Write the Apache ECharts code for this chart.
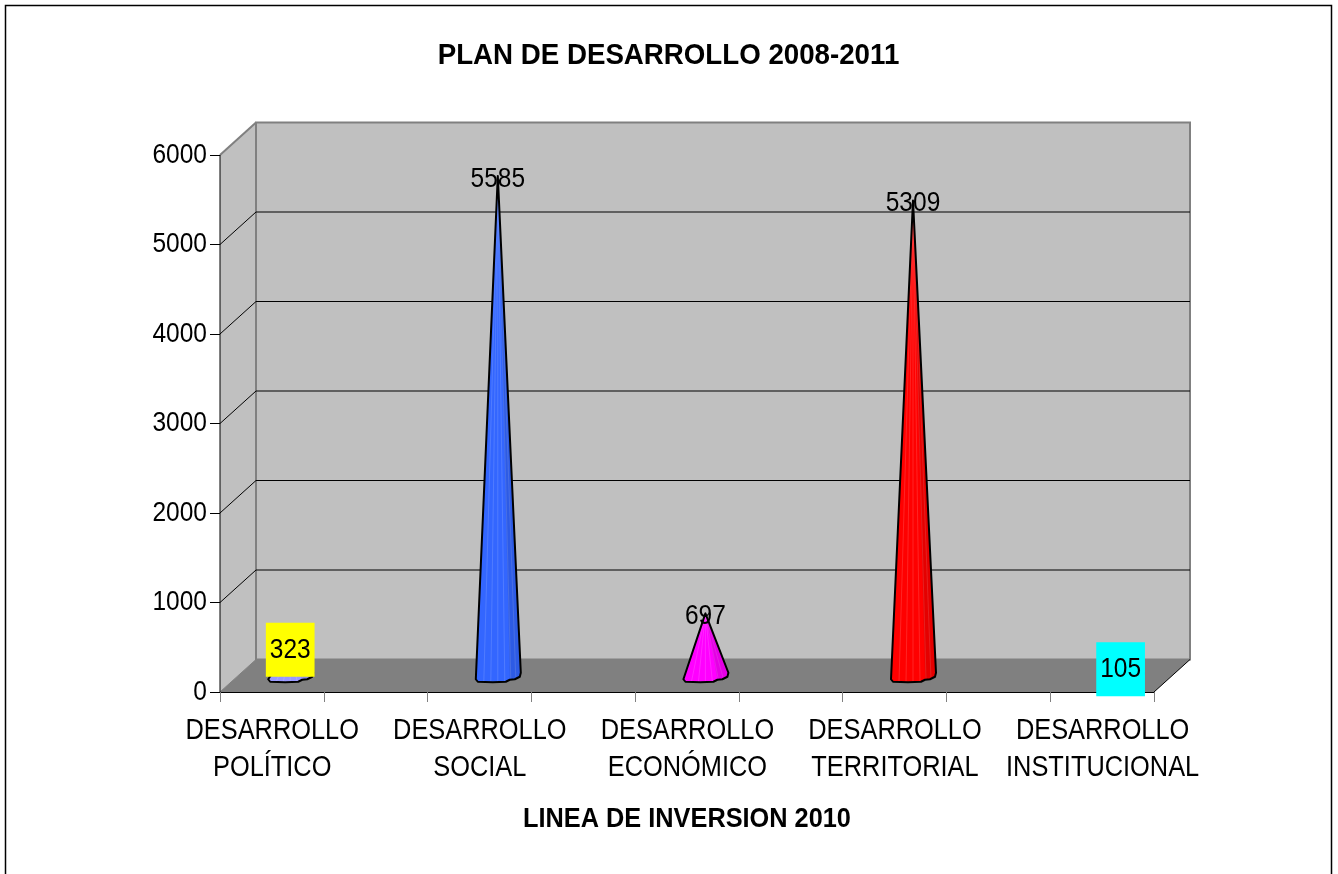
<!DOCTYPE html>
<html>
<head>
<meta charset="utf-8">
<style>html,body{margin:0;padding:0;background:#fff}#c{width:1338px;height:874px}</style>
<script src="https://cdn.jsdelivr.net/npm/echarts@6/dist/echarts.min.js"></script>
</head>
<body>
<div id="c"></div>
<script>
const titleText = 'PLAN DE DESARROLLO 2008-2011';
const xName = 'LINEA DE INVERSION 2010';
const categories = ['DESARROLLO\nPOLÍTICO', 'DESARROLLO\nSOCIAL', 'DESARROLLO\nECONÓMICO', 'DESARROLLO\nTERRITORIAL', 'DESARROLLO\nINSTITUCIONAL'];
const values = [323, 5585, 697, 5309, 105];
const coneColors = ['#9999ff', '#3366ff', '#ff00ff', '#ff0000', '#00ffff'];
const labelBackgrounds = ['#ffff00', null, null, null, '#00ffff'];
const yTicks = [0, 1000, 2000, 3000, 4000, 5000, 6000];

const FONT = '"Liberation Sans", Arial, sans-serif';
const DX = 36, DY = -32.5;
const baseOutline = [[-22,3.5],[-20,6],[-5,6.5],[8,6],[12,4],[17,3.5],[22,1],[23,-3]];

// The reference's type is horizontally condensed: draw all text narrower about its anchor.
const nativeFillText = CanvasRenderingContext2D.prototype.fillText;
CanvasRenderingContext2D.prototype.fillText = function (t, x, y, m) {
  const sx = /bold|700/.test(this.font) ? 0.945 : 0.875;
  this.save();
  this.translate(x, y);
  this.scale(sx, 1);
  nativeFillText.call(this, t, 0, 0);
  this.restore();
};

function renderRoom(params, api) {
  const o = api.coord([0, 0]), t = api.coord([0, 6000]), r = api.coord([9, 0]);
  const poly = (pts, fill, stroke, w) => ({type:'polygon', shape:{points:pts}, style:{fill, stroke, lineWidth:w}});
  const line = (a, b, stroke, w) => ({type:'line', shape:{x1:a[0],y1:a[1],x2:b[0],y2:b[1]}, style:{stroke, lineWidth:w}});
  const sh = p => [p[0] + DX, p[1] + DY];
  const br = [r[0], t[1]];
  const kids = [
    poly([o, t, sh(t), sh(o)], '#c0c0c0', null, 0),
    poly([sh(t), sh(br), sh(r), sh(o)], '#c0c0c0', '#808080', 2),
    poly([o, r, sh(r), sh(o)], '#808080', null, 0)
  ];
  yTicks.forEach(v => {
    const p = api.coord([0, v]);
    if (v > 0 && v < 6000) kids.push(line(sh(p), [sh(r)[0], sh(p)[1]], '#000', 1));
    if (v > 0 && v < 6000) kids.push(line(p, sh(p), '#000', 1));
  });
  kids.push(line(t, sh(t), '#808080', 2));
  kids.push(line(o, sh(o), '#808080', 1));
  kids.push(line(r, sh(r), '#000', 1));
  kids.push(line(t, o, '#000', 1));
  return {type:'group', children:kids};
}

function renderCone(params, api) {
  const i = api.value(0), v = api.value(1);
  const c0 = api.coord([i, 0]), tip0 = api.coord([i, v]);
  const cx = c0[0] + DX / 2, cy = c0[1] + DY / 2;
  const apex = [cx, tip0[1] + DY / 2];
  const base = baseOutline.map(p => [cx + p[0], cy + p[1]]);
  const kids = [];
  const color = coneColors[i];
  kids.push({type:'polygon', shape:{points:[...base, apex]}, style:{fill:color, stroke:null}});
  const rim = [[-14,6.2],[-7,6.4],[0,6.3],[7,6],[13,4],[18,3.2]];
  rim.forEach(p => {
    kids.push({type:'line', shape:{x1:cx+p[0], y1:cy+p[1], x2:apex[0], y2:apex[1]},
      style:{stroke:'rgba(255,255,255,0.14)', lineWidth:1}});
  });
  kids.push({type:'polygon', shape:{points:[[cx+12,cy+4],[cx+17,cy+3.5],[cx+22,cy+1],[cx+23,cy-3],apex]},
    style:{fill:'rgba(0,0,0,0.10)', stroke:null}});
  kids.push({type:'polygon', shape:{points:[...base, apex]}, style:{fill:null, stroke:'#000', lineWidth:2, lineJoin:'round'}});
  const bg = labelBackgrounds[i];
  kids.push({
    type:'text', z2:50,
    style:{
      text:String(v), x:cx, y:apex[1] + 3, align:'center', verticalAlign:'middle',
      font:'28px ' + FONT, fill:'#000',
      backgroundColor:bg || undefined,
      padding: bg ? [13, 1, 13, 1] : 0
    }
  });
  return {type:'group', children:kids};
}

const chart = echarts.init(document.getElementById('c'), null, {renderer:'canvas'});
chart.setOption({
  animation:false,
  backgroundColor:'#fff',
  title:{
    text:titleText, left:663.5, top:36, textAlign:'center',
    textStyle:{fontFamily:FONT, fontSize:29.3, fontWeight:'bold', color:'#000'}
  },
  graphic:[
    {type:'polyline', silent:true, shape:{points:[[5.5,874],[5.5,5.5],[1331.5,5.5],[1331.5,874]]}, style:{fill:null, stroke:'#000', lineWidth:1.5}}
  ],
  grid:[
    {left:168.4, width:1038, top:155, height:537},
    {left:220, width:934, top:155, height:537}
  ],
  xAxis:[
    {type:'category', gridIndex:0, data:categories,
     axisLine:{show:false}, axisTick:{show:false}, splitLine:{show:false},
     axisLabel:{interval:0, margin:20, lineHeight:37, fontFamily:FONT, fontSize:29, color:'#000'}},
    {type:'value', gridIndex:1, min:0, max:9, interval:1,
     axisLine:{show:true, onZero:false, lineStyle:{color:'#000', width:1}},
     axisTick:{show:true, length:10, lineStyle:{color:'#808080', width:1}},
     axisLabel:{show:false}, splitLine:{show:false},
     name:xName, nameLocation:'middle', nameGap:114,
     nameTextStyle:{fontFamily:FONT, fontSize:26.8, fontWeight:'bold', color:'#000'}}
  ],
  yAxis:[
    {type:'value', gridIndex:0, min:0, max:6000, interval:1000, show:false},
    {type:'value', gridIndex:1, min:0, max:6000, interval:1000,
     axisLine:{show:true, lineStyle:{color:'#000', width:1}},
     axisTick:{show:true, length:10, lineStyle:{color:'#000', width:1}},
     axisLabel:{margin:13, fontFamily:FONT, fontSize:28, color:'#000', padding:[4,0,0,0], formatter:v => String(v)},
     splitLine:{show:false}}
  ],
  series:[
    {type:'custom', xAxisIndex:1, yAxisIndex:1, z:1, silent:true, clip:false, data:[[0,0]], renderItem:renderRoom, encode:{x:0,y:1}},
    {type:'custom', xAxisIndex:0, yAxisIndex:0, z:3, silent:true, clip:false,
     data:values.map((v,i)=>[i,v]), renderItem:renderCone, encode:{x:0,y:1}}
  ]
});
</script>
</body>
</html>
